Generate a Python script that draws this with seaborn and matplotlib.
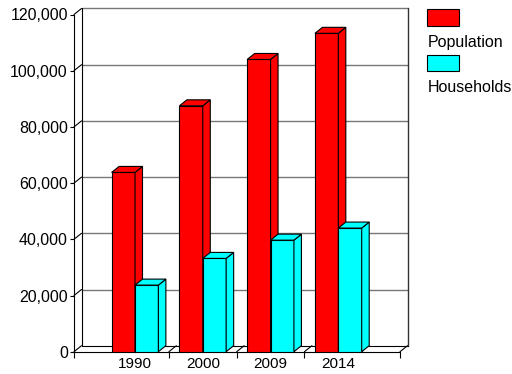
import matplotlib
matplotlib.use("Agg")
import matplotlib.pyplot as plt
import seaborn as sns
import pandas as pd
from matplotlib.patches import Polygon, Rectangle
from matplotlib.ticker import FuncFormatter

# ---- data ----
years = ["1990", "2000", "2009", "2014"]
population = [63800, 87500, 104000, 113300]
households = [23700, 33200, 39700, 44000]
series = ["Population", "Households"]
colors = ["#FF0000", "#00FFFF"]
y_ticks = [0, 20000, 40000, 60000, 80000, 100000, 120000]

sns.set_theme(style="white")
plt.rcParams["font.family"] = ["Liberation Sans", "DejaVu Sans"]

W, H = 512, 374
fig = plt.figure(figsize=(W / 100, H / 100), dpi=100)
ax_left, ax_right, ax_bottom, ax_top = 74, 400, 351.7, 14.5
ax = fig.add_axes([ax_left / W, (H - ax_bottom) / H,
                   (ax_right - ax_left) / W, (ax_bottom - ax_top) / H])

df = pd.DataFrame({
    "Year": years * 2,
    "Value": population + households,
    "Series": [series[0]] * len(years) + [series[1]] * len(years),
})

sns.barplot(data=df, x="Year", y="Value", hue="Series", hue_order=series,
            palette=colors, width=0.69, saturation=1, edgecolor="black",
            linewidth=0.8, errorbar=None, legend=False, ax=ax)

x0, x1 = -0.9, 3.91
ymax = y_ticks[-1]
ax.set_xlim(x0, x1)
ax.set_ylim(0, ymax)

# depth offset (pixels -> data units)
depth_px_x, depth_px_y = 7.5, 6.0
dx = depth_px_x * (x1 - x0) / (ax_right - ax_left)
dy = depth_px_y * ymax / (ax_bottom - ax_top)

# back wall, left wall, floor
grid_col = "#777777"
for v in y_ticks[1:]:
    ax.plot([x0 + dx, x1 + dx], [v + dy, v + dy], color=grid_col, lw=1.0,
            zorder=1, clip_on=False)
for v in y_ticks:
    ax.plot([x0, x0 + dx], [v, v + dy], color="black", lw=0.8, zorder=1,
            clip_on=False)
ax.plot([x0 + dx, x0 + dx], [dy, ymax + dy], color="black", lw=0.8, zorder=1,
        clip_on=False)
ax.plot([x1 + dx, x1 + dx], [dy, ymax + dy], color="#333333", lw=1.0, zorder=1,
        clip_on=False)
ax.plot([x0 + dx, x1 + dx], [dy, dy], color="black", lw=0.8, zorder=1,
        clip_on=False)
bounds = [i + 0.5 for i in range(len(years) - 1)] + [x1]
for b in bounds:
    ax.plot([b, b + dx], [0, dy], color="black", lw=0.8, zorder=1,
            clip_on=False)

# 3D faces for bars
for p in list(ax.patches):
    fc = p.get_facecolor()
    z = 3 if fc[1] < 0.5 else 4
    p.set_zorder(z)
    bx, w, h = p.get_x(), p.get_width(), p.get_height()
    side = Polygon([(bx + w, 0), (bx + w + dx, dy), (bx + w + dx, h + dy), (bx + w, h)],
                   closed=True, facecolor=fc, edgecolor="black", lw=0.8,
                   zorder=z, clip_on=False)
    top = Polygon([(bx, h), (bx + w, h), (bx + w + dx, h + dy), (bx + dx, h + dy)],
                  closed=True, facecolor=fc, edgecolor="black", lw=0.8,
                  zorder=z, clip_on=False)
    ax.add_patch(side)
    ax.add_patch(top)

# axes styling
for s in ["top", "right"]:
    ax.spines[s].set_visible(False)
for s in ["left", "bottom"]:
    ax.spines[s].set_color("black")
    ax.spines[s].set_linewidth(0.8)

fs = 11.5
ax.set_yticks(y_ticks)
ax.yaxis.set_major_formatter(FuncFormatter(lambda v, _: f"{v:,.0f}"))
ax.tick_params(axis="y", direction="out", length=3, width=0.8, pad=1.5,
               labelsize=fs, colors="black", left=True)
ax.set_xticks(range(len(years)))
ax.set_xticklabels(years)
ax.set_xticks([x0] + bounds, minor=True)
ax.tick_params(axis="x", which="major", length=0, pad=3.5, labelsize=11,
               colors="black")
ax.tick_params(axis="x", which="minor", direction="out", length=4, width=0.8,
               color="black", bottom=True)
ax.set_xlabel("")
ax.set_ylabel("")

# legend (swatches with labels below)
sw_x, sw_w, sw_h = 427, 32, 16.5
sw_tops = [9, 54.5]
text_base = [46.5, 91.5]
for name, col, t, tb in zip(series, colors, sw_tops, text_base):
    fig.add_artist(Rectangle((sw_x / W, (H - t - sw_h) / H), sw_w / W, sw_h / H,
                             transform=fig.transFigure, facecolor=col,
                             edgecolor="black", lw=0.8))
    fig.text(428 / W, (H - tb) / H, name, fontsize=fs, ha="left",
             va="baseline", color="black")

fig.savefig("out.png", dpi=100)
